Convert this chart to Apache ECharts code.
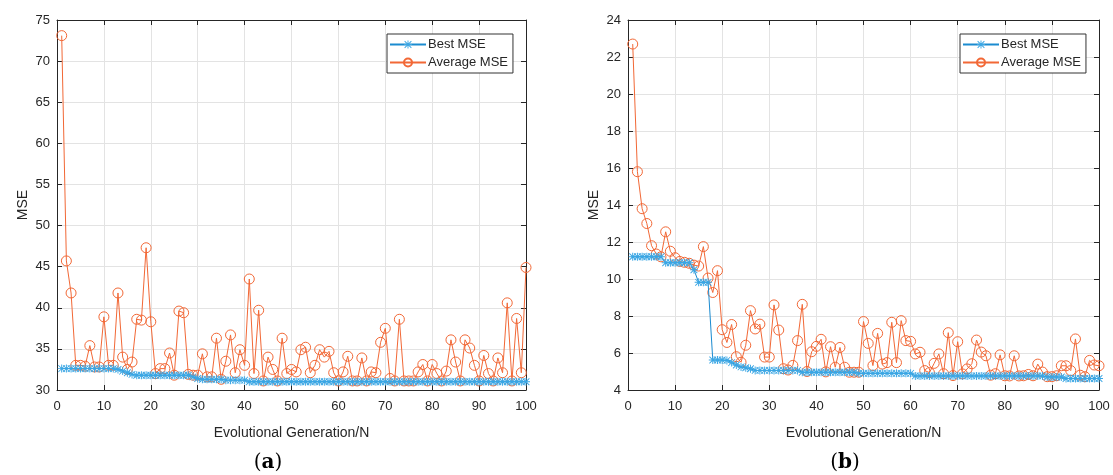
<!DOCTYPE html>
<html>
<head>
<meta charset="utf-8">
<title>MSE</title>
<script src="https://cdn.jsdelivr.net/npm/echarts@6/dist/echarts.min.js"></script>
<style>
  html, body { margin: 0; padding: 0; background: #fff; }
  #chart { width: 1113px; height: 475px; }
</style>
</head>
<body>
<div id="chart"></div>
<script>
// (a) values per generation 1..100
var bestA = [
  32.6, 32.6, 32.6, 32.6, 32.6, 32.6, 32.6, 32.6, 32.6, 32.6,
  32.6, 32.6, 32.5, 32.3, 32.1, 31.9, 31.8, 31.8, 31.8, 31.8,
  31.8, 31.8, 31.8, 31.8, 31.8, 31.8, 31.8, 31.8, 31.6, 31.4,
  31.3, 31.3, 31.3, 31.3, 31.3, 31.2, 31.2, 31.2, 31.2, 31.2,
  31.0, 31.0, 31.0, 31.0, 31.0, 31.0, 31.0, 31.0, 31.0, 31.0,
  31.0, 31.0, 31.0, 31.0, 31.0, 31.0, 31.0, 31.0, 31.0, 31.0,
  31.0, 31.0, 31.0, 31.0, 31.0, 31.0, 31.0, 31.0, 31.0, 31.0,
  31.0, 31.0, 31.0, 31.0, 31.0, 31.0, 31.0, 31.0, 31.0, 31.0,
  31.0, 31.0, 31.0, 31.0, 31.0, 31.0, 31.0, 31.0, 31.0, 31.0,
  31.0, 31.0, 31.0, 31.0, 31.0, 31.0, 31.0, 31.0, 31.0, 31.0
];
var avgA = [
  73.1, 45.7, 41.8, 33.0, 33.0, 32.9, 35.4, 32.8, 32.8, 38.9,
  33.0, 33.0, 41.8, 34.0, 32.5, 33.4, 38.6, 38.5, 47.3, 38.3,
  32.0, 32.6, 32.6, 34.5, 31.8, 39.6, 39.4, 31.9, 31.8, 31.8,
  34.4, 31.6, 31.6, 36.3, 31.3, 33.5, 36.7, 32.1, 34.9, 33.0,
  43.5, 32.0, 39.7, 31.1, 34.0, 32.5, 31.1, 36.3, 32.0, 32.5,
  32.2, 34.9, 35.2, 32.1, 33.0, 34.9, 34.0, 34.7, 32.1, 31.1,
  32.2, 34.1, 31.1, 31.1, 33.9, 31.1, 32.2, 32.1, 35.8, 37.5,
  31.4, 31.1, 38.6, 31.1, 31.1, 31.1, 32.2, 33.1, 31.1, 33.1,
  32.0, 31.1, 32.3, 36.1, 33.4, 31.1, 36.1, 35.1, 33.0, 31.1,
  34.2, 32.0, 31.1, 33.9, 32.1, 40.6, 31.1, 38.7, 32.1, 44.9
];

// (b) values per generation 1..100
var bestB = [
  11.2, 11.2, 11.2, 11.2, 11.2, 11.2, 11.2, 10.88, 10.88, 10.88,
  10.88, 10.88, 10.88, 10.5, 9.82, 9.82, 9.82, 5.62, 5.62, 5.62,
  5.6, 5.48, 5.35, 5.25, 5.2, 5.15, 5.06, 5.06, 5.06, 5.06,
  5.06, 5.06, 5.06, 5.06, 5.06, 5.06, 4.96, 4.96, 4.96, 4.96,
  4.96, 4.96, 4.96, 4.96, 4.96, 4.96, 4.96, 4.96, 4.9, 4.9,
  4.9, 4.9, 4.9, 4.9, 4.9, 4.9, 4.9, 4.9, 4.9, 4.9,
  4.76, 4.76, 4.76, 4.76, 4.76, 4.76, 4.76, 4.76, 4.76, 4.76,
  4.76, 4.76, 4.76, 4.76, 4.76, 4.76, 4.76, 4.76, 4.76, 4.76,
  4.76, 4.76, 4.76, 4.76, 4.76, 4.76, 4.76, 4.76, 4.7, 4.7,
  4.7, 4.7, 4.62, 4.62, 4.62, 4.62, 4.62, 4.62, 4.62, 4.62
];
var avgB = [
  22.7, 15.8, 13.8, 13.0, 11.8, 11.35, 11.2, 12.55, 11.5, 11.15,
  10.95, 10.9, 10.85, 10.75, 10.7, 11.75, 10.05, 9.27, 10.45, 7.26,
  6.57, 7.54, 5.8, 5.5, 6.42, 8.29, 7.3, 7.56, 5.78, 5.78,
  8.6, 7.24, 5.15, 5.08, 5.33, 6.67, 8.63, 5.0, 6.07, 6.36,
  6.74, 4.98, 6.34, 5.23, 6.3, 5.23, 4.96, 4.96, 4.96, 7.7,
  6.52, 5.32, 7.06, 5.4, 5.48, 7.66, 5.48, 7.75, 6.67, 6.63,
  5.95, 6.04, 5.05, 4.94, 5.44, 5.95, 4.88, 7.1, 4.78, 6.61,
  4.87, 5.14, 5.42, 6.7, 6.05, 5.85, 4.8, 4.88, 5.9, 4.77,
  4.76, 5.85, 4.76, 4.77, 4.84, 4.77, 5.4, 4.97, 4.72, 4.72,
  4.77, 5.31, 5.31, 5.05, 6.76, 4.8, 4.72, 5.6, 5.35, 5.31
];

var xTicks = { min: 0, max: 100, interval: 10 };
var yTicksA = { min: 30, max: 75, interval: 5 };
var yTicksB = { min: 4, max: 24, interval: 2 };

var blueLine = "#1b8bd0",
  blueMark = "#3aa6e4",
  orange = "#f26836",
  axisColor = "#262626",
  gridColor = "#e3e3e3";

// asterisk made of four thin bars
var asterisk =
  "path://M0,4.4L10,4.4L10,5.6L0,5.6Z M4.4,0L5.6,0L5.6,10L4.4,10Z " +
  "M1.2,0.4L9.6,8.8L8.8,9.6L0.4,1.2Z M8.8,0.4L9.6,1.2L1.2,9.6L0.4,8.8Z";

function pairs(arr) {
  return arr.map(function(v, i) {
    return [i + 1, v];
  });
}

function mainX(grid) {
  return {
    type: "value",
    gridIndex: grid,
    min: xTicks.min,
    max: xTicks.max,
    interval: xTicks.interval,
    name: "Evolutional Generation/N",
    nameLocation: "middle",
    nameGap: 36,
    nameTextStyle: { color: axisColor, fontSize: 14, fontFamily: "Liberation Sans" },
    axisLine: { show: true, onZero: false, lineStyle: { color: axisColor, width: 1 } },
    axisTick: { show: true, inside: true, length: 5, lineStyle: { color: axisColor } },
    axisLabel: { color: axisColor, fontSize: 13, margin: 10, fontFamily: "Liberation Sans" },
    splitLine: { show: true, lineStyle: { color: gridColor, width: 1 } }
  };
}

function boxX(grid) {
  return {
    type: "value",
    gridIndex: grid,
    position: "top",
    min: xTicks.min,
    max: xTicks.max,
    interval: xTicks.interval,
    axisLine: { show: true, onZero: false, lineStyle: { color: axisColor, width: 1 } },
    axisTick: { show: true, inside: true, length: 5, lineStyle: { color: axisColor } },
    axisLabel: { show: false },
    splitLine: { show: false }
  };
}

function mainY(grid, t) {
  return {
    type: "value",
    gridIndex: grid,
    min: t.min,
    max: t.max,
    interval: t.interval,
    name: "MSE",
    nameLocation: "middle",
    nameGap: 27,
    nameTextStyle: { color: axisColor, fontSize: 14, fontFamily: "Liberation Sans" },
    axisLine: { show: true, onZero: false, lineStyle: { color: axisColor, width: 1 } },
    axisTick: { show: true, inside: true, length: 5, lineStyle: { color: axisColor } },
    axisLabel: { color: axisColor, fontSize: 13, margin: 7, fontFamily: "Liberation Sans" },
    splitLine: { show: true, lineStyle: { color: gridColor, width: 1 } }
  };
}

function boxY(grid, t) {
  return {
    type: "value",
    gridIndex: grid,
    position: "right",
    min: t.min,
    max: t.max,
    interval: t.interval,
    axisLine: { show: true, onZero: false, lineStyle: { color: axisColor, width: 1 } },
    axisTick: { show: true, inside: true, length: 5, lineStyle: { color: axisColor } },
    axisLabel: { show: false },
    splitLine: { show: false }
  };
}

function bestSeries(x, y, values) {
  return {
    type: "line",
    name: "Best MSE",
    xAxisIndex: x,
    yAxisIndex: y,
    data: pairs(values),
    symbol: asterisk,
    symbolSize: 8,
    showAllSymbol: true,
    z: 3,
    itemStyle: { color: blueMark },
    lineStyle: { color: blueLine, width: 1 },
    animation: false
  };
}

function avgSeries(x, y, values) {
  return {
    type: "line",
    name: "Average MSE",
    xAxisIndex: x,
    yAxisIndex: y,
    data: pairs(values),
    symbol: "circle",
    symbolSize: 10,
    showAllSymbol: true,
    z: 2,
    itemStyle: { color: "rgba(255,255,255,0)", borderColor: orange, borderWidth: 1 },
    lineStyle: { color: orange, width: 1 },
    animation: false
  };
}

function legendBox(left) {
  return {
    orient: "vertical",
    left: left,
    top: 34,
    padding: [4, 5, 4, 2],
    itemGap: 5,
    itemWidth: 36,
    itemHeight: 10,
    backgroundColor: "#fff",
    borderColor: "#333",
    borderWidth: 1,
    borderRadius: 0,
    textStyle: { color: axisColor, fontSize: 13, fontFamily: "Liberation Sans", padding: [0, 0, 0, -3] },
    data: ["Best MSE", "Average MSE"]
  };
}

var chart = echarts.init(document.getElementById("chart"), null, { renderer: "canvas" });

var options = {
  backgroundColor: "#fff",
  animation: false,
  title: [
    {
      text: "({b|a})",
      left: 263,
      top: 448,
      textAlign: "center",
      textStyle: {
        fontFamily: "DejaVu Serif",
        fontSize: 20,
        fontWeight: "normal",
        color: "#000",
        rich: { b: { fontFamily: "DejaVu Serif", fontSize: 20, fontWeight: "bold", color: "#000" } }
      }
    },
    {
      text: "({b|b})",
      left: 840,
      top: 448,
      textAlign: "center",
      textStyle: {
        fontFamily: "DejaVu Serif",
        fontSize: 20,
        fontWeight: "normal",
        color: "#000",
        rich: { b: { fontFamily: "DejaVu Serif", fontSize: 20, fontWeight: "bold", color: "#000" } }
      }
    }
  ],
  legend: [legendBox(387), legendBox(960)],
  grid: [
    { left: 57, top: 20, width: 469, height: 370 },
    { left: 628, top: 20, width: 471, height: 370 }
  ],
  xAxis: [mainX(0), boxX(0), mainX(1), boxX(1)],
  yAxis: [mainY(0, yTicksA), boxY(0, yTicksA), mainY(1, yTicksB), boxY(1, yTicksB)],
  series: [
    bestSeries(0, 0, bestA),
    avgSeries(0, 0, avgA),
    bestSeries(2, 2, bestB),
    avgSeries(2, 2, avgB)
  ]
};

chart.setOption(options, true);
window.onresize = function() {
  chart.resize();
};
</script>
</body>
</html>
